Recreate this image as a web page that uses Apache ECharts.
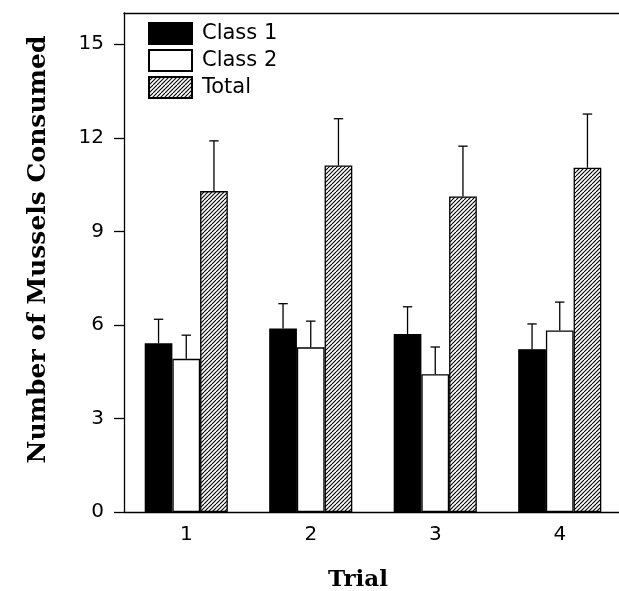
<!DOCTYPE html>
<html>
<head>
<meta charset="utf-8">
<script src="https://cdn.jsdelivr.net/npm/echarts@6/dist/echarts.min.js"></script>
<style>html,body{margin:0;padding:0;background:#fff;overflow:hidden}#c{width:619px;height:591px}</style>
</head>
<body>
<div id="c"></div>
<script>
const trials = ['1', '2', '3', '4'];
const yTicks = [0, 3, 6, 9, 12, 15];
const seriesNames = ['Class 1', 'Class 2', 'Total'];
const class1 = [5.41, 5.88, 5.71, 5.22];
const class1Err = [0.77, 0.80, 0.87, 0.81];
const class2 = [4.91, 5.28, 4.42, 5.82];
const class2Err = [0.76, 0.84, 0.87, 0.91];
const total = [10.29, 11.11, 10.12, 11.04];
const totalErr = [1.61, 1.50, 1.61, 1.72];

const BAR_W = 27.7;

function hatch() {
  const c = document.createElement('canvas');
  c.width = 8; c.height = 8;
  const g = c.getContext('2d');
  g.fillStyle = '#fff'; g.fillRect(0, 0, 8, 8);
  g.strokeStyle = '#000'; g.lineWidth = 1.1;
  for (let k = -8; k <= 16; k += 4) {
    g.beginPath(); g.moveTo(k, 8); g.lineTo(k + 8, 0); g.stroke();
  }
  return { image: c, repeat: 'repeat' };
}

const values = [class1, class2, total];
const errs = [class1Err, class2Err, totalErr];
const fills = ['#000', '#fff', hatch()];

const series = [];
values.forEach((v, i) => {
  series.push({
    name: seriesNames[i], type: 'bar', data: v, barWidth: BAR_W, barGap: '0%',
    itemStyle: { color: fills[i], borderColor: '#000', borderWidth: 1.3 },
    z: 3
  });
});
values.forEach((v, i) => {
  series.push({
    type: 'custom', z: 2,
    data: v.map((val, j) => [j, val, val + errs[i][j]]),
    renderItem: function (params, api) {
      const p1 = api.coord([api.value(0), api.value(1)]);
      const p2 = api.coord([api.value(0), api.value(2)]);
      const x = p1[0] + (i - 1) * BAR_W;
      const st = { stroke: '#000', lineWidth: 1.3 };
      return { type: 'group', children: [
        { type: 'line', shape: { x1: x, y1: p1[1], x2: x, y2: p2[1] }, style: st },
        { type: 'line', shape: { x1: x - 4.7, y1: p2[1], x2: x + 4.7, y2: p2[1] }, style: st }
      ]};
    }
  });
});

const chart = echarts.init(document.getElementById('c'));
chart.setOption({
  animation: false,
  backgroundColor: '#fff',
  grid: { left: 124, top: 13, width: 498, height: 499, outerBoundsMode: 'none', containLabel: false, show: false },
  legend: {
    data: seriesNames, orient: 'vertical', left: 143, top: 17, icon: 'rect',
    itemWidth: 43, itemHeight: 21, itemGap: 4,
    textStyle: { fontFamily: 'DejaVu Sans', fontSize: 21, lineHeight: 21, color: '#000', padding: [0, 0, 0, 5] }
  },
  xAxis: [{
    type: 'category', data: trials,
    name: 'Trial', nameLocation: 'middle', nameGap: 57,
    nameTextStyle: { fontFamily: 'DejaVu Serif', fontWeight: 'bold', fontSize: 23, color: '#000', padding: [0, 30, 0, 0] },
    axisLine: { lineStyle: { color: '#000', width: 1.3 } },
    axisTick: { show: false },
    axisLabel: { margin: 13, fontFamily: 'DejaVu Sans', fontSize: 20, color: '#000' }
  }, {
    type: 'category', data: trials, position: 'top',
    axisLine: { show: true, lineStyle: { color: '#000', width: 1.3 } },
    axisTick: { show: false }, axisLabel: { show: false }, splitLine: { show: false }
  }],
  yAxis: {
    type: 'value', min: 0, max: 16, interval: 3,
    name: 'Number of Mussels Consumed', nameLocation: 'middle', nameGap: 73, nameRotate: 90,
    nameTextStyle: { fontFamily: 'DejaVu Serif', fontWeight: 'bold', fontSize: 25, color: '#000', padding: [0, 0, 0, 26] },
    axisLine: { show: true, lineStyle: { color: '#000', width: 1.3 } },
    axisTick: { show: true, length: 10, customValues: yTicks, lineStyle: { color: '#000', width: 1.3 } },
    axisLabel: { customValues: yTicks, margin: 20, fontFamily: 'DejaVu Sans', fontSize: 20, color: '#000' },
    splitLine: { show: false }
  },
  series: series
});
</script>
</body>
</html>
